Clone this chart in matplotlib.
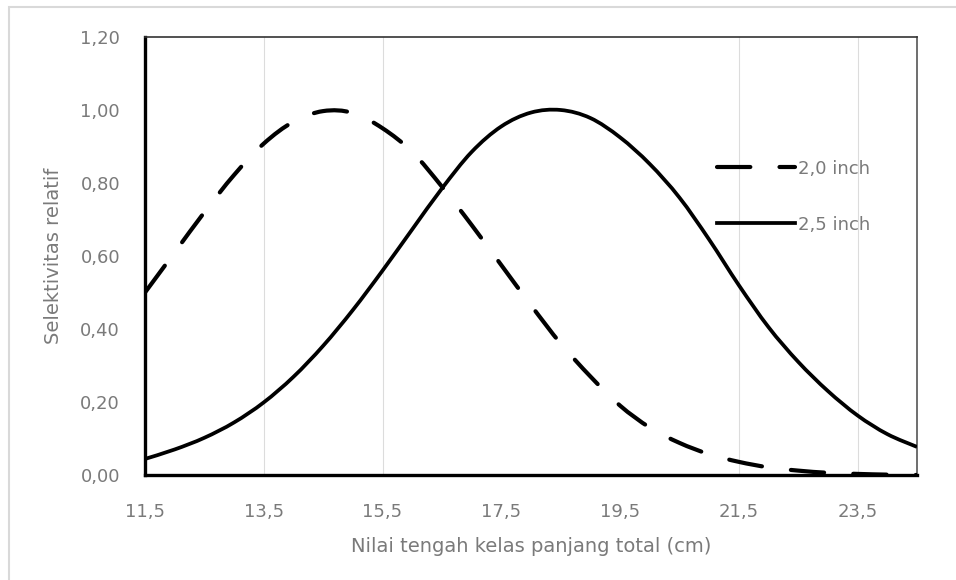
import numpy as np
import matplotlib
matplotlib.use('Agg')
import matplotlib.pyplot as plt
from matplotlib.patches import Rectangle, PathPatch
from matplotlib.path import Path
from matplotlib.lines import Line2D

# nilai tengah kelas panjang (cm)
panjang = [11.5, 12.0, 12.5, 13.0, 13.5, 14.0, 14.5, 15.0, 15.5, 16.0, 16.5, 17.0, 17.5, 18.0,
           18.5, 19.0, 19.5, 20.0, 20.5, 21.0, 21.5, 22.0, 22.5, 23.0, 23.5, 24.0, 24.5]
# selektivitas relatif, mata jaring 2,0 inch
sel_20 = [0.50, 0.61, 0.72, 0.822, 0.908, 0.968, 0.997, 0.992, 0.95, 0.885, 0.79, 0.685, 0.575, 0.465,
          0.36, 0.27, 0.19, 0.13, 0.088, 0.057, 0.036, 0.021, 0.012, 0.006, 0.003, 0.001, 0.0]
# selektivitas relatif, mata jaring 2,5 inch
sel_25 = [0.044, 0.07, 0.102, 0.144, 0.199, 0.269, 0.354, 0.452, 0.56, 0.673, 0.785, 0.885, 0.955, 0.993,
          1.0, 0.978, 0.925, 0.852, 0.76, 0.645, 0.52, 0.405, 0.31, 0.23, 0.163, 0.112, 0.077]

xticks = [11.5, 13.5, 15.5, 17.5, 19.5, 21.5, 23.5]
xtick_labels = ['11,5', '13,5', '15,5', '17,5', '19,5', '21,5', '23,5']
yticks = [0.0, 0.2, 0.4, 0.6, 0.8, 1.0, 1.2]
ytick_labels = ['0,00', '0,20', '0,40', '0,60', '0,80', '1,00', '1,20']
grid_x = [13.5, 15.5, 21.5, 23.5]

grey = '#7a7a7a'
dash = (0, (8, 7))


def smooth_path(xs, ys):
    # garis halus ala Excel: segmen Bezier melalui tiap titik data
    p = np.column_stack([xs, ys])
    ext = np.vstack([p[0], p, p[-1]])
    verts = [p[0]]
    codes = [Path.MOVETO]
    for i in range(len(p) - 1):
        p0, p1, p2, p3 = ext[i], ext[i + 1], ext[i + 2], ext[i + 3]
        verts += [p1 + (p2 - p0) / 6, p2 - (p3 - p1) / 6, p2]
        codes += [Path.CURVE4] * 3
    return Path(verts, codes)


fig = plt.figure(figsize=(9.56, 5.80), dpi=100)
ax = fig.add_axes([145/956, 105/580, 772/956, 438/580])

for g in grid_x:
    ax.axvline(g, color='#dcdcdc', lw=0.8, zorder=0)

ax.add_patch(PathPatch(smooth_path(panjang, sel_20), fill=False, edgecolor='black', lw=3,
                       linestyle=dash, capstyle='round', zorder=3))
ax.add_patch(PathPatch(smooth_path(panjang, sel_25), fill=False, edgecolor='black', lw=2.7,
                       zorder=3))

ax.set_xlim(11.5, 24.5)
ax.set_ylim(0, 1.2)
ax.set_xticks(xticks)
ax.set_xticklabels(xtick_labels)
ax.set_yticks(yticks)
ax.set_yticklabels(ytick_labels)
ax.tick_params(axis='both', length=0, labelsize=13, labelcolor=grey)
ax.tick_params(axis='y', pad=18)
ax.tick_params(axis='x', pad=20)

ax.spines['left'].set_linewidth(2.4)
ax.spines['bottom'].set_linewidth(2.4)
ax.spines['top'].set_linewidth(1.2)
ax.spines['right'].set_linewidth(1.2)
ax.spines['top'].set_color('#333333')
ax.spines['right'].set_color('#555555')

ax.set_xlabel('Nilai tengah kelas panjang total (cm)', fontsize=14, color=grey, labelpad=12)
ax.set_ylabel('Selektivitas relatif', fontsize=14, color=grey, labelpad=12)

handles = [Line2D([], [], color='black', lw=3, linestyle=dash, dash_capstyle='round'),
           Line2D([], [], color='black', lw=2.7)]
ax.legend(handles, ['2,0 inch', '2,5 inch'], loc='upper left', bbox_to_anchor=(0.72, 0.757),
          frameon=False, fontsize=13, handlelength=4.3, handletextpad=0.2, labelspacing=2.1,
          labelcolor=grey)

fig.patches.append(Rectangle((9/956, -0.05), 1.2, (573/580) + 0.05, transform=fig.transFigure,
                             fill=False, edgecolor='#d9d9d9', lw=1.5, clip_on=False))

fig.savefig('out.png', dpi=100)
